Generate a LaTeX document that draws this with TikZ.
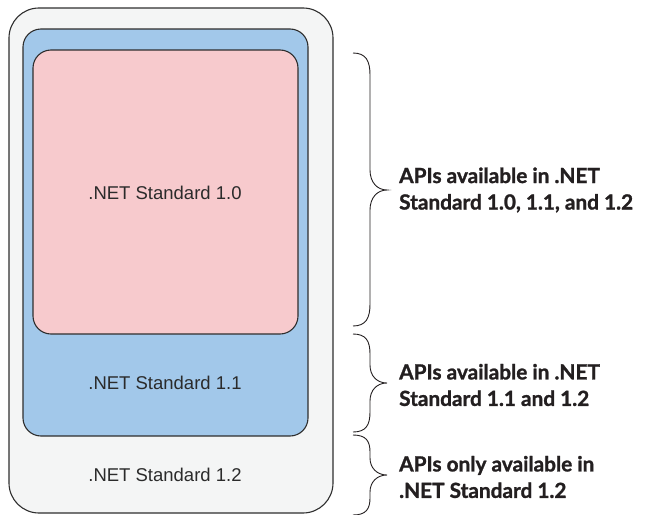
\documentclass[tikz,border=0pt]{standalone}
\usepackage{fontspec}
\setmainfont{Liberation Sans}
\newfontfamily\labfont{Lato}[BoldFeatures={FakeBold=1.3}]
\definecolor{outerfill}{HTML}{F4F5F5}
\definecolor{bluefill}{HTML}{A2C8EA}
\definecolor{pinkfill}{HTML}{F7CACD}
\definecolor{edge}{HTML}{2E2E2E}
\definecolor{txt}{HTML}{2B2B2B}
\definecolor{labtxt}{HTML}{231F20}
\tikzset{
  box/.style={draw=edge, line width=1.1pt, rectangle, inner sep=0pt},
  boxtext/.style={font=\fontsize{18.5}{22}\selectfont, text=txt},
  brace/.style={draw=labtxt, line width=0.9pt},
  apilabel/.style={anchor=west, align=left, text=labtxt, inner sep=0pt,
    font=\labfont\bfseries\fontsize{20.8}{26.5}\selectfont}
}
\begin{document}
\begin{tikzpicture}[x=1pt,y=-1pt]
\useasboundingbox (0,0) rectangle (653,514);
\node[box, fill=outerfill, rounded corners=30pt, minimum width=324pt, minimum height=505pt] (outer) at (171,260.5) {};
\node[box, fill=bluefill, rounded corners=18pt, minimum width=285pt, minimum height=407pt] (blue) at (165.5,232.5) {};
\node[box, fill=pinkfill, rounded corners=18pt, minimum width=265pt, minimum height=284pt] (pink) at (165.5,192) {};
\node[boxtext] (t10) at (165,193) {.NET Standard 1.0};
\node[boxtext] (t11) at (165,383) {.NET Standard 1.1};
\node[boxtext] (t12) at (165,475) {.NET Standard 1.2};
% braces
\coordinate (b1a) at (353,53);
\coordinate (b1t) at (387,190);
\coordinate (b1b) at (353,326);
\draw[brace] (b1a) .. controls (366,53) and (370,61) .. (370,75) -- (370,170)
  .. controls (370,182) and (377,190) .. (b1t)
  .. controls (377,190) and (370,198) .. (370,210) -- (370,304)
  .. controls (370,318) and (366,326) .. (b1b);
\coordinate (b2a) at (353,334);
\coordinate (b2t) at (387,383);
\coordinate (b2b) at (353,432);
\draw[brace] (b2a) .. controls (366,334) and (370,341) .. (370,354) -- (370,365)
  .. controls (370,376) and (377,383) .. (b2t)
  .. controls (377,383) and (370,390) .. (370,401) -- (370,412)
  .. controls (370,425) and (366,432) .. (b2b);
\coordinate (b3a) at (353,435);
\coordinate (b3t) at (387,475);
\coordinate (b3b) at (353,515);
\draw[brace] (b3a) .. controls (366,435) and (370,441) .. (370,452) -- (370,458)
  .. controls (370,468) and (377,475) .. (b3t)
  .. controls (377,475) and (370,482) .. (370,492) -- (370,498)
  .. controls (370,509) and (366,515) .. (b3b);
\node[apilabel] (l1) at (399,190) {APIs available in .NET\\Standard 1.0, 1.1, and 1.2};
\node[apilabel] (l2) at (399,385) {APIs available in .NET\\Standard 1.1 and 1.2};
\node[apilabel] (l3) at (399,477) {APIs only available in\\.NET Standard 1.2};
\end{tikzpicture}
\end{document}
